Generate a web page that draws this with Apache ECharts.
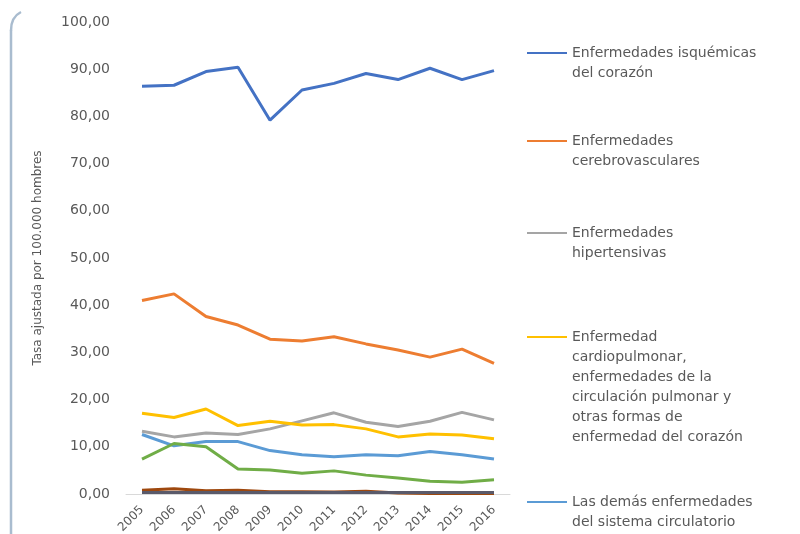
<!DOCTYPE html>
<html>
<head>
<meta charset="utf-8">
<script src="https://cdn.jsdelivr.net/npm/echarts@6/dist/echarts.min.js"></script>
<style>
  html, body { margin: 0; padding: 0; background: #fff; }
  #chart { width: 800px; height: 534px; }
</style>
</head>
<body>
<div id="chart"></div>
<script>
// años
var years = ['2005', '2006', '2007', '2008', '2009', '2010', '2011', '2012', '2013', '2014', '2015', '2016'];

var isquemicas = [86.4, 86.6, 89.5, 90.4, 79.2, 85.6, 87.0, 89.1, 87.8, 90.2, 87.8, 89.7];
var cerebro = [41.0, 42.4, 37.6, 35.8, 32.8, 32.4, 33.3, 31.8, 30.5, 29.0, 30.7, 27.7];
var hipertensivas = [13.3, 12.1, 12.9, 12.6, 13.8, 15.5, 17.2, 15.2, 14.3, 15.4, 17.3, 15.7];
var cardiopulmonar = [17.1, 16.2, 18.0, 14.5, 15.4, 14.6, 14.7, 13.8, 12.1, 12.7, 12.5, 11.7];
var demas = [12.6, 10.2, 11.1, 11.1, 9.2, 8.3, 7.9, 8.3, 8.1, 9.0, 8.3, 7.4];
var reumaticas = [7.4, 10.7, 10.0, 5.3, 5.1, 4.4, 4.9, 4.0, 3.4, 2.7, 2.5, 3.0];
var otras1 = [0.8, 1.1, 0.7, 0.8, 0.5, 0.5, 0.4, 0.6, 0.2, 0.1, 0.1, 0.1];
var otras2 = [0.3, 0.3, 0.3, 0.3, 0.3, 0.3, 0.3, 0.3, 0.3, 0.3, 0.3, 0.3];

var names = [
  'Enfermedades isquémicas del corazón',
  'Enfermedades cerebrovasculares',
  'Enfermedades hipertensivas',
  'Enfermedad cardiopulmonar, enfermedades de la circulación pulmonar y otras formas de enfermedad del corazón',
  'Las demás enfermedades del sistema circulatorio',
  'Fiebre reumática aguda y enfermedades cardíacas reumáticas crónicas',
  'Aterosclerosis',
  'Otras'
];
var legendLabels = [
  'Enfermedades isquémicas\ndel corazón',
  'Enfermedades\ncerebrovasculares',
  'Enfermedades\nhipertensivas',
  'Enfermedad\ncardiopulmonar,\nenfermedades de la\ncirculación pulmonar y\notras formas de\nenfermedad del corazón',
  'Las demás enfermedades\ndel sistema circulatorio'
];
var legendTops = [23, 111, 203, 227, 472];
var colors = ['#4472C4', '#ED7D31', '#A5A5A5', '#FFC000', '#5B9BD5', '#70AD47', '#9E480E', '#5a5a6a'];
var values = [isquemicas, cerebro, hipertensivas, cardiopulmonar, demas, reumaticas, otras1, otras2];

var LH = 20;
var legends = [];
for (var i = 0; i < legendLabels.length; i++) {
  var n = legendLabels[i].split('\n').length;
  // blank lines on top so the line icon sits beside the first text line
  var lbl = new Array(n).join('\n') + legendLabels[i];
  legends.push({
    data: [names[i]],
    left: 527,
    top: legendTops[i],
    padding: 0,
    orient: 'vertical',
    itemWidth: 40,
    itemHeight: 2,
    icon: 'rect',
    selectedMode: false,
    formatter: (function (t) { return function () { return t; }; })(lbl),
    textStyle: {
      fontFamily: 'DejaVu Sans',
      fontSize: 14,
      color: '#595959',
      lineHeight: LH
    }
  });
}

var series = [];
for (var j = 0; j < values.length; j++) {
  series.push({
    name: names[j],
    type: 'line',
    data: values[j],
    showSymbol: false,
    smooth: false,
    lineStyle: { width: 3, color: colors[j] },
    itemStyle: { color: colors[j] },
    z: 2 + j
  });
}

var option = {
  animation: false,
  backgroundColor: '#fff',
  graphic: [{
    type: 'line',
    shape: { x1: 11, y1: 534, x2: 11, y2: 30 },
    style: { stroke: '#a9bccf', lineWidth: 2.5 }
  }, {
    type: 'bezierCurve',
    shape: { x1: 11, y1: 30.5, cpx1: 11, cpy1: 17, x2: 21, y2: 12 },
    style: { fill: null, stroke: '#a9bccf', lineWidth: 2.5 }
  }],
  legend: legends,
  grid: { left: 126, right: 290, top: 22, bottom: 40, outerBoundsMode: 'none', containLabel: false },
  xAxis: {
    type: 'category',
    data: years,
    boundaryGap: true,
    axisLine: { lineStyle: { color: '#d9d9d9', width: 1 } },
    axisTick: { show: false },
    axisLabel: {
      rotate: 45,
      interval: 0,
      margin: 14,
      fontFamily: 'DejaVu Sans',
      fontSize: 12,
      color: '#595959'
    }
  },
  yAxis: {
    type: 'value',
    min: 0,
    max: 100,
    interval: 10,
    name: 'Tasa ajustada por 100.000 hombres',
    nameLocation: 'middle',
    nameGap: 82,
    nameTextStyle: { fontFamily: 'DejaVu Sans', fontSize: 12, color: '#595959' },
    axisLine: { show: false },
    axisTick: { show: false },
    splitLine: { show: false },
    axisLabel: {
      margin: 16,
      fontFamily: 'DejaVu Sans',
      fontSize: 14,
      color: '#595959',
      formatter: function (v) { return v.toFixed(2).replace('.', ','); }
    }
  },
  series: series
};

var myChart = echarts.init(document.getElementById('chart'));
myChart.setOption(option);
</script>
</body>
</html>
